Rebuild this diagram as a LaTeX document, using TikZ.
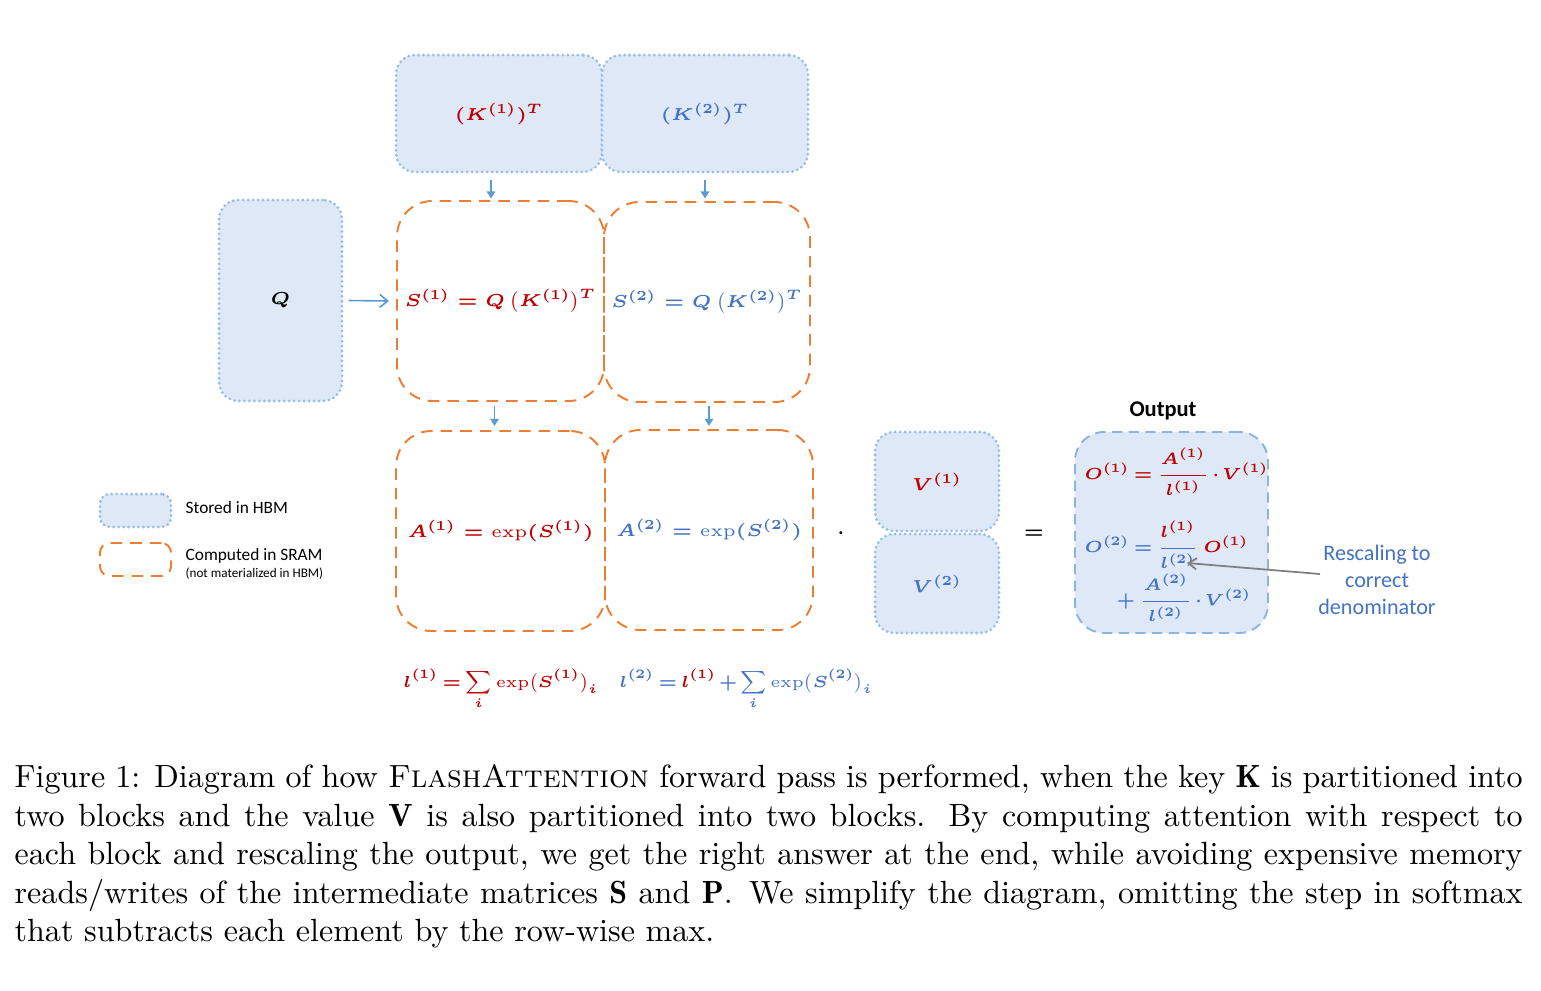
\RequirePackage{fix-cm}
\documentclass[tikz,border=0pt]{standalone}
\usepackage{fontspec}
\usepackage{amsmath,bm}
\usetikzlibrary{arrows.meta}
\newfontfamily\carlito{Carlito}
\DeclareMathSizes{5.4}{5.4}{4.3}{3.4}
\DeclareMathSizes{5}{5}{4}{3.2}
\newcommand{\tightsp}{\medmuskip=1.8mu\relax\thickmuskip=3mu\relax}
\definecolor{myred}{RGB}{192,0,0}
\definecolor{myblue}{RGB}{68,114,196}
\definecolor{hbmfill}{RGB}{222,232,246}
\definecolor{hbmline}{RGB}{150,190,230}
\definecolor{sramline}{RGB}{237,125,49}
\definecolor{arrblue}{RGB}{91,155,213}
\definecolor{outline}{RGB}{140,180,225}
\definecolor{mygray}{RGB}{127,127,127}
\def\u{0.3115pt}
\tikzset{
  hbm/.style={draw=hbmline, fill=hbmfill, line width=0.95pt, dash pattern=on 0pt off 1.55pt, line cap=round, rounded corners=6pt, inner sep=0pt},
  sram/.style={draw=sramline, line width=0.6pt, dash pattern=on 3.6pt off 2.5pt, rounded corners=11pt, inner sep=0pt},
  outbox/.style={draw=outline, fill=hbmfill, line width=0.6pt, dash pattern=on 3.2pt off 2pt, rounded corners=9pt, inner sep=0pt},
  mth/.style={font=\fontsize{5.4}{6.5}\selectfont\boldmath},
  smth/.style={font=\fontsize{5}{6}\selectfont\boldmath, inner sep=0pt},
  downarr/.style={draw=arrblue, line width=0.5pt, -{Triangle[length=2.2pt,width=2.6pt]}},
  lbl/.style={font=\fontsize{5.4}{6.5}\selectfont\carlito, inner sep=0pt},
}
\begin{document}
\begin{tikzpicture}[x=0.3115pt,y=-0.3115pt]
\useasboundingbox (0,0) rectangle (1541,990);
% HBM boxes
\node[hbm, mth, text=myred, minimum width=206*\u, minimum height=117*\u] (K1) at (499,113.5) {$(K^{(1)})^{T}$};
\node[hbm, mth, text=myblue, minimum width=206*\u, minimum height=117*\u] (K2) at (705,113.5) {$(K^{(2)})^{T}$};
\node[hbm, mth, text=black, minimum width=123*\u, minimum height=201*\u] (Q) at (280.5,300.5) {$Q$};
% SRAM boxes
\node[sram, mth, text=myred, minimum width=207*\u, minimum height=200*\u] (S1) at (500.5,301) {$S^{(1)} = Q\,\bigl(K^{(1)}\bigr)^{T}$};
\node[sram, mth, text=myblue, minimum width=206*\u, minimum height=200*\u] (S2) at (707,302) {$S^{(2)} = Q\,\bigl(K^{(2)}\bigr)^{T}$};
\node[sram, mth, text=myred, minimum width=209*\u, minimum height=200*\u] (A1) at (500.5,531) {$A^{(1)} = \text{exp}(S^{(1)})$};
\node[sram, mth, text=myblue, minimum width=208*\u, minimum height=200*\u] (A2) at (709,530) {$A^{(2)} = \text{exp}(S^{(2)})$};
% V boxes
\node[hbm, mth, text=myred, minimum width=124*\u, minimum height=99*\u] (V1) at (937,481.5) {$V^{(1)}$};
\node[hbm, mth, text=myblue, minimum width=124*\u, minimum height=99*\u] (V2) at (937,583.5) {$V^{(2)}$};
\node[mth, inner sep=0pt] (dot) at (841,533) {$\cdot$};
\node[mth, inner sep=0pt] (eq) at (1034,534) {$=$};
% output
\node[lbl, font=\fontsize{7}{8}\selectfont\carlito\bfseries] (outlbl) at (1163,411) {Output};
\node[outbox, minimum width=193*\u, minimum height=201*\u] (Out) at (1171.5,532.5) {};
\node[smth, text=myred, anchor=west] (O1) at (1084,472) {$\tightsp O^{(1)} = \dfrac{A^{(1)}}{l^{(1)}}\cdot V^{(1)}$};
\node[smth, text=myblue, anchor=west] (O2) at (1084,545) {$\tightsp O^{(2)} = \dfrac{\textcolor{myred}{l^{(1)}}}{l^{(2)}}\,\textcolor{myred}{O^{(1)}}$};
\node[smth, text=myblue, anchor=east] (O3) at (1252,598) {$\tightsp +\;\dfrac{A^{(2)}}{l^{(2)}}\cdot V^{(2)}$};
% rescaling note
\node[lbl, font=\fontsize{6.9}{8.3}\selectfont\carlito, text=myblue, align=center] (resc) at (1377,580) {Rescaling to\\correct\\denominator};
\coordinate (rstart) at (1320,574);
\coordinate (rtip) at (1187,563);
\draw[mygray, line width=0.55pt, -{Straight Barb[length=2.5pt,width=3.5pt]}] (rstart) -- (rtip);
% arrows
\draw[downarr] (K1.south) ++(-8,6) -- ++(0,19);
\draw[downarr] (K2.south) ++(0,6) -- ++(0,19);
\draw[downarr] (S1.south) ++(-6,4) -- ++(0,20);
\draw[downarr] (S2.south) ++(2,3) -- ++(0,20);
\draw[arrblue, line width=0.5pt, -{Straight Barb[length=2.5pt,width=4pt]}] (Q.east) ++(5,0) -- ([xshift=-7*\u]S1.west);
% l formulas
\node[smth, text=myred, anchor=base west] (l1) at (403,687) {$\tightsp\displaystyle l^{(1)} = \sum_{i}\text{exp}\bigl(S^{(1)}\bigr)_{i}$};
\node[smth, text=myblue, anchor=base west] (l2) at (619,687) {$\tightsp\displaystyle l^{(2)} = \textcolor{myred}{l^{(1)}} + \sum_{i}\text{exp}\bigl(S^{(2)}\bigr)_{i}$};
% legend
\node[hbm, rounded corners=3pt, minimum width=71*\u, minimum height=33*\u] (legH) at (135.5,510.5) {};
\node[sram, rounded corners=3pt, minimum width=71*\u, minimum height=33*\u] (legS) at (135.5,559.5) {};
\node[lbl, anchor=west] (legHt) at (185,508) {Stored in HBM};
\node[lbl, anchor=west] (legSt) at (185,556) {Computed in SRAM};
\node[lbl, anchor=west, font=\fontsize{4.1}{5}\selectfont\carlito] (legSt2) at (185,574) {(not materialized in HBM)};
% caption
\node[anchor=north west, inner sep=0pt, text width=469.75pt, align=justify, font=\fontsize{10}{12}\selectfont] (cap) at (14,764) {Figure 1: Diagram of how \textsc{FlashAttention} forward pass is performed, when the key $\mathbf{K}$ is partitioned into two blocks and the value $\mathbf{V}$ is also partitioned into two blocks. By computing attention with respect to each block and rescaling the output, we get the right answer at the end, while avoiding expensive memory reads/writes of the intermediate matrices $\mathbf{S}$ and $\mathbf{P}$. We simplify the diagram, omitting the step in softmax that subtracts each element by the row-wise max.};
\end{tikzpicture}
\end{document}
